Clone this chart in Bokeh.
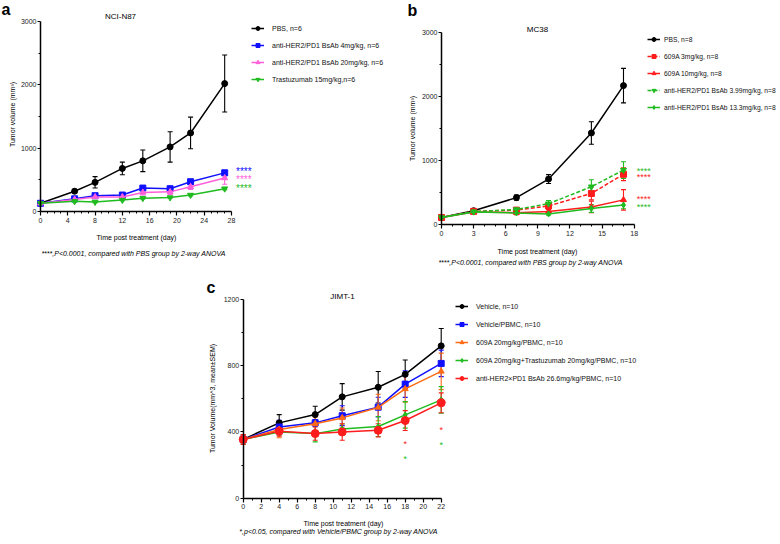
import math
from bokeh.plotting import figure
from bokeh.models import (Range1d, FixedTicker, Legend, LegendItem, Label, Whisker,
                          ColumnDataSource, TeeHead, Spacer)
from bokeh.layouts import row, column
from bokeh.core.properties import value
from bokeh.embed import file_html
from bokeh.resources import INLINE

FONT = "Liberation Sans"

# ---------------- Panel a data (NCI-N87) ----------------
a_days = [0, 5, 8, 12, 15, 19, 22, 27]
a_pbs = [130, 320, 460, 680, 800, 1020, 1240, 2020]
a_pbs_err = [10, 30, 90, 100, 170, 240, 250, 450]
a_bs4 = [130, 200, 250, 260, 370, 360, 470, 610]
a_bs4_err = [10, 15, 20, 20, 20, 30, 20, 40]
a_bs20 = [130, 190, 230, 230, 300, 310, 390, 530]
a_bs20_err = [10, 15, 20, 20, 40, 40, 40, 100]
a_tras = [130, 160, 150, 180, 210, 220, 260, 360]
a_tras_err = [10, 10, 10, 10, 10, 10, 15, 15]
a_labels = ["PBS, n=6", "anti-HER2/PD1 BsAb 4mg/kg, n=6",
            "anti-HER2/PD1 BsAb 20mg/kg, n=6", "Trastuzumab 15mg/kg,n=6"]
a_star_x = [29.8, 29.8, 29.8]
a_star_y = [630, 508, 360]
a_xticks = [0, 4, 8, 12, 16, 20, 24, 28]
a_yticks = [0, 1000, 2000, 3000]

# ---------------- Panel b data (MC38) ----------------
b_days = [0, 3, 7, 10, 14, 17]
b_pbs = [110, 215, 420, 710, 1430, 2170]
b_pbs_err = [15, 20, 40, 70, 175, 270]
b_r3 = [110, 205, 225, 290, 485, 785]
b_r3_err = [15, 20, 40, 50, 100, 100]
b_r10 = [110, 195, 185, 205, 275, 385]
b_r10_err = [15, 20, 30, 30, 90, 160]
b_g399 = [110, 200, 235, 325, 590, 850]
b_g399_err = [15, 20, 30, 50, 110, 130]
b_g133 = [110, 195, 180, 165, 250, 305]
b_g133_err = [15, 15, 20, 20, 60, 60]
b_labels = ["PBS, n=8", "609A 3mg/kg, n=8", "609A 10mg/kg, n=8",
            "anti-HER2/PD1 BsAb 3.99mg/kg, n=8", "anti-HER2/PD1 BsAb 13.3mg/kg, n=8"]
b_star_x = [18.9, 18.9, 18.9, 18.9]
b_star_y = [835, 740, 395, 280]
b_xticks = [0, 3, 6, 9, 12, 15, 18]
b_yticks = [0, 1000, 2000, 3000]

# ---------------- Panel c data (JIMT-1) ----------------
c_days = [0, 4, 8, 11, 15, 18, 22]
c_veh = [355, 455, 505, 612, 670, 748, 920]
c_veh_err = [20, 50, 50, 80, 95, 87, 105]
c_vp = [355, 430, 455, 498, 550, 689, 814]
c_vp_err = [20, 40, 20, 60, 60, 80, 80]
c_609 = [355, 415, 450, 485, 548, 660, 766]
c_609_err = [20, 50, 40, 60, 80, 80, 110]
c_combo = [355, 400, 390, 418, 433, 503, 594]
c_combo_err = [30, 20, 50, 30, 60, 80, 80]
c_bs = [355, 405, 390, 400, 410, 469, 576]
c_bs_err = [30, 30, 40, 50, 40, 60, 60]
c_labels = ["Vehicle, n=10", "Vehicle/PBMC, n=10", "609A 20mg/kg/PBMC, n=10",
            "609A 20mg/kg+Trastuzumab 20mg/kg/PBMC, n=10",
            "anti-HER2\u00d7PD1 BsAb 26.6mg/kg/PBMC, n=10"]
c_star_x = [18, 18, 22, 22]
c_star_y = [326, 237, 412, 323]
c_xticks = list(range(0, 23, 2))
c_yticks = [0, 400, 800, 1200]

BLACK = "#000000"
BLUE = "#1010ff"
PINK = "#ff5fd9"
GREEN = "#1fbb1f"
RED = "#ff1c1c"
ORANGE = "#ff6a14"


def span(d0, p0, d1, p1, lo_px, hi_px):
    """Range whose ends sit at pixels lo_px/hi_px, given two anchor pixels."""
    s = (p1 - p0) / (d1 - d0)
    return Range1d(d0 + (lo_px - p0) / s, d0 + (hi_px - p0) / s)


def make_fig(box, xanc, yanc, xb, yb, xt, xminor, yt, yminor):
    ox, oy, w, h = box
    xr = span(xanc[0], xanc[1], xanc[2], xanc[3], ox, ox + w)
    yr = span(yanc[0], yanc[1], yanc[2], yanc[3], oy + h, oy)
    p = figure(width=w, height=h, x_range=xr, y_range=yr, title=None,
               output_backend="svg", toolbar_location=None,
               min_border_left=0, min_border_right=0, min_border_top=0,
               min_border_bottom=0)
    p.outline_line_color = None
    p.grid.visible = False
    p.background_fill_color = "white"
    p.border_fill_color = "white"
    p.xaxis.fixed_location = 0
    p.yaxis.fixed_location = 0
    p.xaxis.bounds = xb
    p.yaxis.bounds = yb
    p.xaxis.ticker = FixedTicker(ticks=xt, minor_ticks=xminor)
    p.yaxis.ticker = FixedTicker(ticks=yt, minor_ticks=yminor)
    for ax in (p.xaxis, p.yaxis):
        ax.axis_line_width = 1.5
        ax.axis_line_color = "black"
        ax.major_tick_line_width = 1.2
        ax.minor_tick_line_width = 1.0
        ax.major_tick_out = 4
        ax.major_tick_in = 0
        ax.minor_tick_out = 2
        ax.minor_tick_in = 0
        ax.major_label_text_font = FONT
        ax.major_label_text_font_size = "7px"
        ax.major_label_text_color = "#222222"
        ax.major_label_standoff = 2
    p.yaxis.major_tick_out = 3
    p.yaxis.major_label_standoff = 1
    return p


def series(p, x, y, err, color, marker, size, dash="solid"):
    src = ColumnDataSource(dict(x=x, y=y,
                                lo=[a - b for a, b in zip(y, err)],
                                hi=[a + b for a, b in zip(y, err)]))
    w = Whisker(source=src, base="x", upper="hi", lower="lo", line_color=color,
                line_width=1.1,
                upper_head=TeeHead(size=5, line_color=color, line_width=1.1),
                lower_head=TeeHead(size=5, line_color=color, line_width=1.1))
    p.add_layout(w)
    l = p.line("x", "y", source=src, line_color=color, line_width=1.5, line_dash=dash)
    m = p.scatter("x", "y", source=src, marker=marker, size=size,
                  fill_color=color, line_color=color)
    return [l, m]


def lab(p, box, text, rx, ry, size=7, style="normal", align="center",
        baseline="middle", angle=0.0, color="black"):
    ox, oy, w, h = box
    p.add_layout(Label(x=rx - ox, y=oy + h - ry, x_units="screen", y_units="screen",
                       text=text, text_font=FONT, text_font_size=f"{size}px",
                       text_font_style=style, text_align=align,
                       text_baseline=baseline, angle=angle, text_color=color))


def stars(p, xs, ys, colors, txt, size):
    src = ColumnDataSource(dict(x=xs, y=ys, c=colors, t=[txt] * len(xs)))
    p.text("x", "y", text="t", source=src, text_color="c", text_font=value(FONT),
           text_font_size=f"{size}px", text_align="center", text_baseline="middle")


def add_legend(p, box, items, left, first_row, spacing, standoff, fsize="7px"):
    ox, oy, w, h = box
    n = len(items)
    top = first_row - 5
    bottom = top + n * 10 + (n - 1) * spacing
    lg = Legend(items=items, location=(left - ox, oy + h - bottom), padding=0, margin=0,
                spacing=spacing, glyph_width=13, glyph_height=10, label_height=10,
                label_standoff=standoff, label_text_font=FONT,
                label_text_font_size=fsize, label_text_color="#111111",
                border_line_color=None, background_fill_alpha=0)
    p.add_layout(lg)


# ---------- Figure A ----------
boxA = (0, 0, 388, 270)
pA = make_fig(boxA, (0, 40, 28, 231), (0, 211, 3000, 21), (0, 28), (0, 3000),
              a_xticks, [i for i in range(0, 29) if i % 4], a_yticks, [500, 1500, 2500])
rA = [series(pA, a_days, a_pbs, a_pbs_err, BLACK, "circle", 6),
      series(pA, a_days, a_bs4, a_bs4_err, BLUE, "square", 6),
      series(pA, a_days, a_bs20, a_bs20_err, PINK, "triangle", 6),
      series(pA, a_days, a_tras, a_tras_err, GREEN, "inverted_triangle", 6)]
stars(pA, a_star_x, a_star_y, [BLUE, PINK, GREEN], "****", 10)
add_legend(pA, boxA, [LegendItem(label=t, renderers=r) for t, r in zip(a_labels, rA)],
           251, 28, 7, 8)
lab(pA, boxA, "a", 1, 9, size=16, style="bold", align="left", baseline="alphabetic")
lab(pA, boxA, "NCI-N87", 120, 16, size=8)
lab(pA, boxA, "Tumor volume (mm\u00b3)", 12, 114, angle=math.pi / 2)
lab(pA, boxA, "Time post treatment (day)", 136, 237)
lab(pA, boxA, "****,P<0.0001, compared with PBS group by 2-way ANOVA", 133, 253,
    style="italic")

# ---------- Figure B ----------
boxB = (388, 0, 392, 270)
pB = make_fig(boxB, (0, 441, 18, 633.7), (0, 224, 3000, 32), (0, 18), (0, 3000),
              b_xticks, [i for i in range(0, 19) if i % 3], b_yticks, [500, 1500, 2500])
rB = [series(pB, b_days, b_pbs, b_pbs_err, BLACK, "circle", 6),
      series(pB, b_days, b_r3, b_r3_err, RED, "square", 6, dash="4 2"),
      series(pB, b_days, b_r10, b_r10_err, RED, "triangle", 6),
      series(pB, b_days, b_g399, b_g399_err, GREEN, "inverted_triangle", 6, dash="4 2"),
      series(pB, b_days, b_g133, b_g133_err, GREEN, "diamond", 6)]
stars(pB, b_star_x, b_star_y, [GREEN, RED, RED, GREEN], "****", 9)
add_legend(pB, boxB, [LegendItem(label=t, renderers=r) for t, r in zip(b_labels, rB)],
           647, 39, 7, 4, fsize="6.7px")
lab(pB, boxB, "b", 407, 10, size=16, style="bold", align="left", baseline="alphabetic")
lab(pB, boxB, "MC38", 537, 29, size=8)
lab(pB, boxB, "Tumor volume (mm\u00b3)", 412, 128, angle=math.pi / 2)
lab(pB, boxB, "Time post treatment (day)", 537, 251)
lab(pB, boxB, "****,P<0.0001, compared with PBS group by 2-way ANOVA", 530, 262,
    style="italic")

# ---------- Figure C ----------
boxC = (188, 270, 592, 274)
pC = make_fig(boxC, (0, 242.7, 22, 440.7), (0, 497.7, 1200, 299), (0, 22), (0, 1200),
              c_xticks, [i for i in range(0, 23) if i % 2], c_yticks, [200, 600, 1000])
rC = [series(pC, c_days, c_veh, c_veh_err, BLACK, "circle", 6),
      series(pC, c_days, c_vp, c_vp_err, BLUE, "square", 6),
      series(pC, c_days, c_609, c_609_err, ORANGE, "triangle", 6),
      series(pC, c_days, c_combo, c_combo_err, GREEN, "diamond", 6),
      series(pC, c_days, c_bs, c_bs_err, RED, "circle", 8)]
stars(pC, c_star_x, c_star_y, [RED, GREEN, RED, GREEN], "*", 9)
add_legend(pC, boxC, [LegendItem(label=t, renderers=r) for t, r in zip(c_labels, rC)],
           455, 306, 8, 8)
lab(pC, boxC, "c", 206, 287, size=16, style="bold", align="left", baseline="alphabetic")
lab(pC, boxC, "JIMT-1", 342, 296, size=8)
lab(pC, boxC, "Tumor Volume(mm^3, mean\u00b1SEM)", 212, 398, angle=math.pi / 2)
lab(pC, boxC, "Time post treatment (day)", 343, 523)
lab(pC, boxC, "*,p<0.05, compared with Vehicle/PBMC group by 2-way ANOVA", 338, 531,
    style="italic")

layout = column(row(pA, pB), row(Spacer(width=188, height=274), pC))
open("out.html", "w").write(file_html(layout, INLINE))
